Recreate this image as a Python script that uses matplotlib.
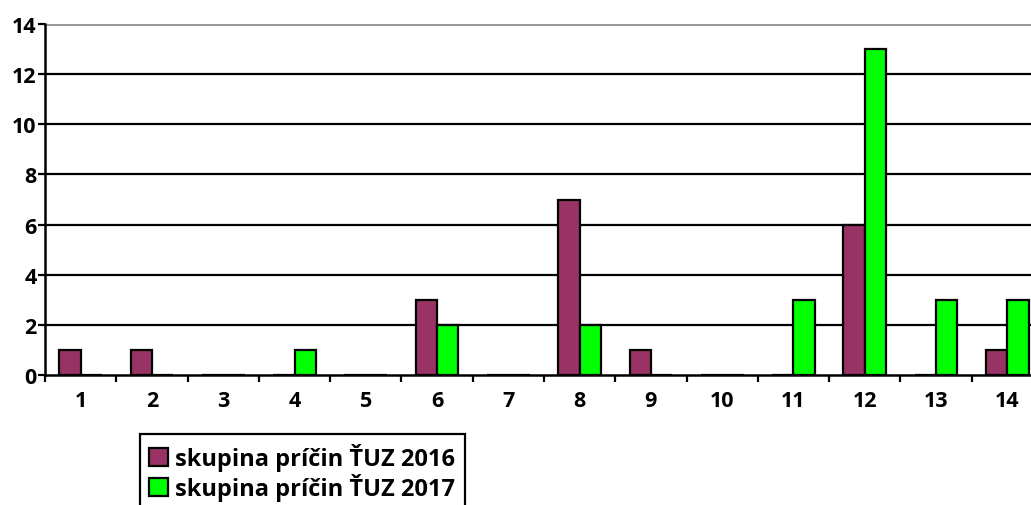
import matplotlib.pyplot as plt
import numpy as np

categories = [str(i) for i in range(1, 15)]
values_2016 = [1, 1, 0, 0, 0, 3, 0, 7, 1, 0, 0, 6, 0, 1]
values_2017 = [0, 0, 0, 1, 0, 2, 0, 2, 0, 0, 3, 13, 3, 3]
labels = ["skupina príčin ŤUZ 2016", "skupina príčin ŤUZ 2017"]

plt.rcParams['font.family'] = ['Open Sans', 'DejaVu Sans']
plt.rcParams['font.weight'] = 'bold'

fig = plt.figure(figsize=(10.31, 5.06), dpi=100)
ax = fig.add_axes([45 / 1031, 130 / 506, 998 / 1031, 351 / 506])

x = np.arange(len(categories))
w = 0.3
ax.bar(x - w / 2, values_2016, w, color="#993366", edgecolor="black", linewidth=1.6,
       label=labels[0], zorder=3)
ax.bar(x + w / 2, values_2017, w, color="#00FF00", edgecolor="black", linewidth=1.6,
       label=labels[1], zorder=3)

ax.set_xlim(-0.5, len(categories) - 0.5)
ax.set_ylim(0, 14)
ax.set_yticks(range(0, 15, 2))
ax.set_xticks(x)
ax.set_xticklabels(categories)
ax.set_xticks(np.arange(-0.5, len(categories), 1), minor=True)
ax.tick_params(axis="x", which="major", length=0, pad=11, labelsize=15.5)
ax.tick_params(axis="x", which="minor", length=5, width=1.6, direction="out")
ax.tick_params(axis="y", length=5, width=1.6, direction="out", labelsize=15.5, pad=1)

for yv in range(2, 14, 2):
    ax.axhline(yv, color="black", linewidth=1.6, zorder=1)
ax.axhline(14, color="#999999", linewidth=2.2, zorder=1)

for s in ["top", "right"]:
    ax.spines[s].set_visible(False)
ax.spines["left"].set_linewidth(1.8)
ax.spines["bottom"].set_linewidth(1.8)
ax.spines["bottom"].set_zorder(4)

leg = fig.legend(loc="upper left", bbox_to_anchor=(140 / 1031, 1 - 435 / 506),
                 frameon=True, fancybox=False, edgecolor="black", framealpha=1,
                 fontsize=17, handlelength=0.8, handleheight=0.8, handletextpad=0.3,
                 labelspacing=0.08, borderpad=0.4, borderaxespad=0)
leg.get_frame().set_linewidth(1.6)

fig.savefig("out.png", dpi=100)
